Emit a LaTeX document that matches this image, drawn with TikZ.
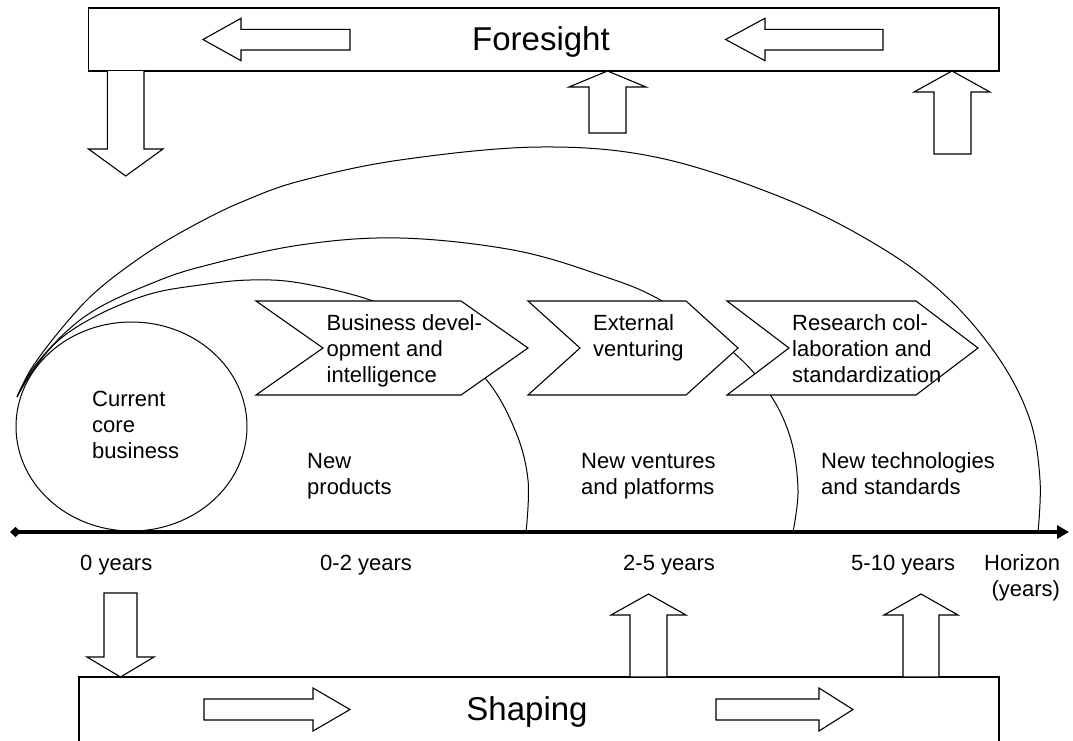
\documentclass[tikz,border=0pt]{standalone}
\usepackage{fontspec}
\setmainfont{Liberation Sans}
\usetikzlibrary{arrows.meta}

\newcommand{\stacktext}[1]{\begin{tabular}[t]{@{}l@{}}#1\end{tabular}}

\tikzset{
  panel/.style={draw, line width=1.3pt},
  hollow/.style={draw, fill=white, line width=1.1pt, line join=miter},
  horizonarc/.style={draw, line width=1pt},
  chev/.style={draw, fill=white, line width=1.1pt, line join=miter},
  lbl/.style={font=\fontsize{22}{26.4}\selectfont, inner sep=0pt, anchor=base west},
  big/.style={font=\fontsize{33}{40}\selectfont, inner sep=0pt, anchor=base},
}

\begin{document}
\begin{tikzpicture}[x=1pt, y=-1pt]
  \path[use as bounding box, fill=white] (0,0) rectangle (1073,740);

  % horizons (inner to outer)
  \draw[horizonarc] plot[smooth, tension=.6] coordinates {(17,397) (34,369) (60,339) (100,314) (150,294) (200,285) (250,280) (300,283) (373,301) (430,330) (485,378) (515,430) (528,480) (526,532)};
  \draw[horizonarc] plot[smooth, tension=.6] coordinates {(17,397) (34,367) (67,331) (100,307) (150,284) (200,267) (300,245) (400,238) (513,250) (600,275) (662,301) (734,353) (771,396) (791,440) (798,490) (793,532)};
  \draw[horizonarc] plot[smooth, tension=.6] coordinates {(17,397) (33,366) (67,322) (100,288) (150,251) (200,222) (244,201) (300,181) (400,160) (540,147) (660,158) (788,200) (885,250) (950,300) (1000,360) (1030,420) (1040,480) (1038,532)};

  % current core business
  \draw[horizonarc] (131.5,426.5) ellipse [x radius=115.5, y radius=104.5];

  % chevrons
  \draw[chev] (256,301) -- (461,301) -- (528,348) -- (461,395) -- (256,395) -- (323,348) -- cycle;
  \draw[chev] (528,301) -- (686,301) -- (738,348) -- (686,395) -- (528,395) -- (580,348) -- cycle;
  \draw[chev] (727,301) -- (916,301) -- (978,348) -- (916,395) -- (727,395) -- (789,348) -- cycle;

  \node[lbl] (bizdev) at (326.5,330) {\stacktext{Business devel-\\opment and\\intelligence}};
  \node[lbl] (venturing) at (593,330) {\stacktext{External\\venturing}};
  \node[lbl] (research) at (792,330) {\stacktext{Research col-\\laboration and\\standardization}};

  \node[lbl] (core) at (92,406) {\stacktext{Current\\core\\business}};
  \node[lbl] (products) at (307,468) {\stacktext{New\\products}};
  \node[lbl] (ventures) at (581,468) {\stacktext{New ventures\\and platforms}};
  \node[lbl] (technologies) at (821,468) {\stacktext{New technologies\\and standards}};

  % time axis
  \coordinate (origin) at (10,532);
  \coordinate (horizon) at (1069,532);
  \draw[line width=3.5pt, {Diamond[length=11pt,width=10pt]}-{Triangle[length=12pt,width=13pt]}] (origin) -- (horizon);

  \node[lbl] (y0) at (80,570) {0 years};
  \node[lbl] (y2) at (320,570) {0-2 years};
  \node[lbl] (y5) at (623,570) {2-5 years};
  \node[lbl] (y10) at (851,570) {5-10 years};
  \node[lbl] (yh) at (984,570) {\begin{tabular}[t]{@{}r@{}}Horizon\\(years)\end{tabular}};

  % foresight
  \draw[panel] (88.5,8) rectangle (999,71);
  \node[big] (foresight) at (541,50) {Foresight};
  \draw[hollow] (203,39.5) -- (241,18.3) -- (241,29.3) -- (350,29.3) -- (350,50) -- (241,50) -- (241,60.7) -- cycle;
  \draw[hollow] (725.6,39.5) -- (765,18.3) -- (765,29.3) -- (883,29.3) -- (883,50) -- (765,50) -- (765,60.7) -- cycle;
  \draw[hollow] (107.4,71) -- (107.4,149) -- (88.5,149) -- (125.7,176) -- (163,149) -- (144,149) -- (144,71);
  \draw[hollow] (607.5,71) -- (646,87) -- (626,87) -- (626,133) -- (589,133) -- (589,87) -- (569,87) -- cycle;
  \draw[hollow] (952,71) -- (990,92) -- (971,92) -- (971,154) -- (934,154) -- (934,92) -- (914,92) -- cycle;

  % shaping
  \draw[panel] (79,677) rectangle (999,760);
  \node[big] (shaping) at (527,720) {Shaping};
  \draw[hollow] (204,699) -- (313,699) -- (313,688) -- (350,709.5) -- (313,731) -- (313,720) -- (204,720) -- cycle;
  \draw[hollow] (716,699) -- (819,699) -- (819,688) -- (853,709.5) -- (819,731) -- (819,720) -- (716,720) -- cycle;
  \draw[hollow] (104,593) -- (137,593) -- (137,657) -- (154,657) -- (120.5,677) -- (87,657) -- (104,657) -- cycle;
  \draw[hollow] (648.5,594) -- (686,615) -- (667,615) -- (667,677) -- (630,677) -- (630,615) -- (611,615) -- cycle;
  \draw[hollow] (921,594) -- (958,615) -- (939,615) -- (939,677) -- (903,677) -- (903,615) -- (884,615) -- cycle;
\end{tikzpicture}
\end{document}
